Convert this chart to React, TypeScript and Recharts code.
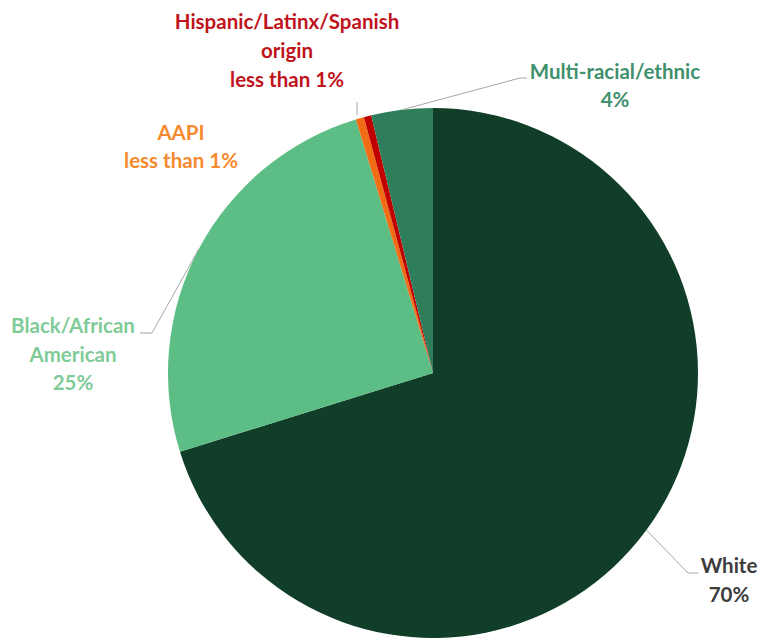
import React from "react";
import { PieChart, Pie, Cell } from "recharts";

const categories = ["White", "Black/African American", "AAPI", "Hispanic/Latinx/Spanish origin", "Multi-racial/ethnic"];
const values = [70.2, 25.1, 0.5, 0.45, 3.75];
const labelLines = [
  ["White", "70%"],
  ["Black/African", "American", "25%"],
  ["AAPI", "less than 1%"],
  ["Hispanic/Latinx/Spanish", "origin", "less than 1%"],
  ["Multi-racial/ethnic", "4%"],
];
const sliceColors = ["#103E29", "#5CBE84", "#F26C15", "#C00000", "#2E7E5B"];
const textColors = ["#3C3C3C", "#7FCB98", "#F58A2E", "#C0141C", "#3F906C"];

// label layout: offsets relative to the pie centre
const labelLayout: Record<string, { x: number; ys: number[]; line?: number[][]; start?: number[] }> = {
  "White": { x: 296, ys: [200, 229], line: [[255, 200], [265, 200]] },
  "Black/African American": { x: -360, ys: [-40, -11, 17], line: [[-281, -40], [-293, -40]] },
  "AAPI": { x: -252, ys: [-233, -205] },
  "Hispanic/Latinx/Spanish origin": { x: -146, ys: [-344, -315, -286], start: [-76, -258], line: [[-76, -271]] },
  "Multi-racial/ethnic": { x: 182, ys: [-294, -266], line: [[87, -295], [94, -295]] },
};

const data = categories.map((name, i) => ({ name, value: values[i] }));
const RADIAN = Math.PI / 180;

const renderLabel = (props: any) => {
  const { cx, cy, midAngle, outerRadius, index, name } = props;
  const lay = labelLayout[name];
  if (!lay) return null;
  const sx = lay.start ? cx + lay.start[0] : cx + outerRadius * Math.cos(-midAngle * RADIAN);
  const sy = lay.start ? cy + lay.start[1] : cy + outerRadius * Math.sin(-midAngle * RADIAN);
  const pts = lay.line ? [[sx, sy], ...lay.line.map(([dx, dy]) => [cx + dx, cy + dy])] : null;
  return (
    <g>
      {pts && (
        <polyline
          points={pts.map((p) => p.join(",")).join(" ")}
          fill="none"
          stroke="#A6A6A6"
          strokeWidth={1}
        />
      )}
      {labelLines[index].map((t, k) => (
        <text
          key={k}
          x={cx + lay.x}
          y={cy + lay.ys[k]}
          textAnchor="middle"
          fill={textColors[index]}
          fontFamily="Lato, 'Open Sans', sans-serif"
          fontWeight={700}
          fontSize={20.5}
        >
          {t}
        </text>
      ))}
    </g>
  );
};

export default function App() {
  return (
    <div style={{ position: "fixed", left: 0, top: 0, width: 760, height: 643, background: "#ffffff" }}>
      <PieChart width={760} height={643} margin={{ top: 0, right: 0, bottom: 0, left: 0 }}>
        <Pie
          data={data}
          dataKey="value"
          nameKey="name"
          cx={433}
          cy={373}
          outerRadius={265}
          startAngle={90}
          endAngle={-270}
          stroke="none"
          isAnimationActive={false}
          label={renderLabel}
          labelLine={false}
        >
          {data.map((d, i) => (
            <Cell key={d.name} fill={sliceColors[i]} />
          ))}
        </Pie>
      </PieChart>
    </div>
  );
}
